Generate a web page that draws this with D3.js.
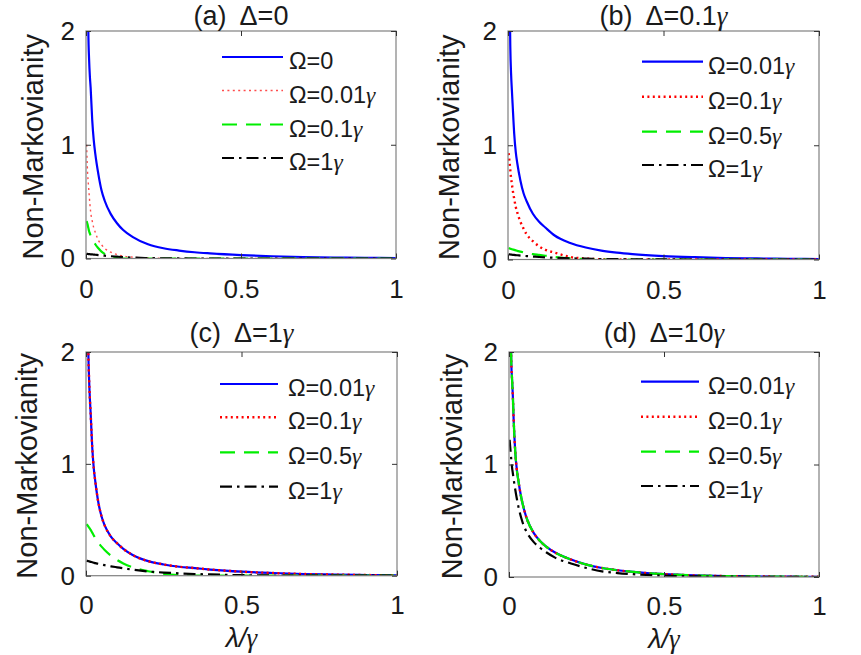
<!DOCTYPE html>
<html>
<head>
<meta charset="utf-8">
<script src="https://d3js.org/d3.v7.min.js"></script>
<style>
  body { margin: 0; background: #fff; }
  svg { display: block; font-family: "Liberation Sans", Arial, Helvetica, sans-serif; }
</style>
</head>
<body>
<div id="chart"></div>
<script>
// lambda / gamma sample points (shared by all curves)
const lambda = [0.002, 0.005, 0.0075, 0.01, 0.0125, 0.015, 0.02, 0.025, 0.03, 0.04, 0.05, 0.06, 0.08, 0.1, 0.12, 0.15, 0.2, 0.25, 0.3, 0.35, 0.4, 0.5, 0.6, 0.7, 0.8, 0.9, 1.0];

// (a) Delta = 0
const aOmega0    = [4.5, 2.8, 2.0, 1.75, 1.6, 1.5, 1.22, 1.04, 0.92, 0.74, 0.6, 0.51, 0.39, 0.31, 0.25, 0.19, 0.125, 0.09, 0.07, 0.055, 0.045, 0.03, 0.02, 0.013, 0.009, 0.006, 0.004];
const aOmega001  = [1.0, 0.76, 0.66, 0.57, 0.48, 0.41, 0.33, 0.27, 0.23, 0.16, 0.12, 0.09, 0.055, 0.035, 0.022, 0.012, 0.004, 0.001, 0, 0, 0, 0, 0, 0, 0, 0, 0];
const aOmega01   = [0.33, 0.3, 0.27, 0.24, 0.22, 0.2, 0.18, 0.15, 0.125, 0.09, 0.06, 0.04, 0.015, 0.004, 0, 0, 0, 0, 0, 0, 0, 0, 0, 0, 0, 0, 0];
const aOmega1    = [0.041, 0.04, 0.039, 0.039, 0.038, 0.037, 0.036, 0.034, 0.033, 0.03, 0.028, 0.025, 0.02, 0.016, 0.012, 0.008, 0.004, 0.002, 0.001, 0, 0, 0, 0, 0, 0, 0, 0];

// (b) Delta = 0.1 gamma
const bOmega001  = [4.0, 2.4, 1.85, 1.62, 1.48, 1.35, 1.1, 0.94, 0.84, 0.69, 0.58, 0.51, 0.4, 0.33, 0.28, 0.21, 0.145, 0.105, 0.078, 0.06, 0.047, 0.03, 0.02, 0.013, 0.009, 0.006, 0.004];
const bOmega01   = [0.93, 0.85, 0.78, 0.71, 0.66, 0.61, 0.53, 0.46, 0.41, 0.33, 0.27, 0.22, 0.16, 0.115, 0.085, 0.06, 0.022, 0.008, 0.003, 0.001, 0, 0, 0, 0, 0, 0, 0];
const bOmega05   = [0.1, 0.097, 0.094, 0.092, 0.09, 0.088, 0.084, 0.08, 0.076, 0.069, 0.062, 0.056, 0.047, 0.04, 0.033, 0.022, 0.01, 0.003, 0, 0, 0, 0, 0, 0, 0, 0, 0];
const bOmega1    = [0.046, 0.045, 0.044, 0.043, 0.042, 0.041, 0.04, 0.038, 0.037, 0.034, 0.032, 0.03, 0.026, 0.022, 0.019, 0.015, 0.01, 0.007, 0.004, 0.003, 0.002, 0.001, 0, 0, 0, 0, 0];

// (c) Delta = 1 gamma
const cOmega001  = [4.5, 2.6, 2.0, 1.75, 1.58, 1.45, 1.15, 0.96, 0.84, 0.65, 0.53, 0.45, 0.35, 0.29, 0.24, 0.185, 0.13, 0.1, 0.08, 0.068, 0.055, 0.036, 0.024, 0.015, 0.01, 0.006, 0.004];
const cOmega01   = [4.5, 2.6, 2.0, 1.75, 1.58, 1.45, 1.15, 0.96, 0.84, 0.65, 0.53, 0.45, 0.35, 0.29, 0.24, 0.185, 0.13, 0.1, 0.08, 0.068, 0.055, 0.036, 0.024, 0.015, 0.01, 0.006, 0.004];
const cOmega05   = [0.46, 0.45, 0.44, 0.43, 0.42, 0.41, 0.385, 0.36, 0.335, 0.295, 0.26, 0.23, 0.18, 0.14, 0.11, 0.075, 0.04, 0.017, 0.005, 0.001, 0, 0, 0, 0, 0, 0, 0];
const cOmega1    = [0.135, 0.132, 0.13, 0.128, 0.126, 0.124, 0.12, 0.116, 0.112, 0.106, 0.1, 0.094, 0.084, 0.075, 0.066, 0.054, 0.038, 0.028, 0.021, 0.015, 0.011, 0.005, 0.002, 0.001, 0, 0, 0];

// (d) Delta = 10 gamma
const dOmega001  = [5.0, 2.5, 1.9, 1.75, 1.6, 1.4, 1.12, 0.96, 0.86, 0.7, 0.585, 0.5, 0.39, 0.32, 0.27, 0.215, 0.155, 0.11, 0.08, 0.06, 0.045, 0.025, 0.014, 0.008, 0.005, 0.003, 0.002];
const dOmega01   = [5.0, 2.5, 1.9, 1.75, 1.6, 1.4, 1.12, 0.96, 0.86, 0.7, 0.585, 0.5, 0.39, 0.32, 0.27, 0.215, 0.155, 0.11, 0.08, 0.06, 0.045, 0.025, 0.014, 0.008, 0.005, 0.003, 0.002];
const dOmega05   = [5.0, 2.5, 1.9, 1.75, 1.6, 1.4, 1.12, 0.96, 0.86, 0.7, 0.585, 0.5, 0.39, 0.32, 0.27, 0.215, 0.155, 0.11, 0.08, 0.06, 0.045, 0.025, 0.014, 0.008, 0.005, 0.003, 0.002];
const dOmega1    = [1.22, 1.12, 1.04, 0.97, 0.92, 0.87, 0.78, 0.7, 0.63, 0.52, 0.44, 0.385, 0.31, 0.26, 0.22, 0.17, 0.12, 0.08, 0.05, 0.035, 0.025, 0.012, 0.006, 0.003, 0.002, 0.001, 0];

// text
const panelTitles = [["(a)", "\u0394=0"], ["(b)", "\u0394=0.1\u03b3"], ["(c)", "\u0394=1\u03b3"], ["(d)", "\u0394=10\u03b3"]];
const legendA = ["\u03a9=0", "\u03a9=0.01\u03b3", "\u03a9=0.1\u03b3", "\u03a9=1\u03b3"];
const legendBCD = ["\u03a9=0.01\u03b3", "\u03a9=0.1\u03b3", "\u03a9=0.5\u03b3", "\u03a9=1\u03b3"];
const xTicks = [0, 0.5, 1];
const yTicks = [0, 1, 2];
const yLabel = "Non-Markovianity";
const xLabel = "\u03bb/\u03b3";

// line styles: blue solid, red dotted, green dashed, black dash-dot
const styles = [
    { color: "#0000ff", dash: null, width: 2.2 },
    { color: "#ff0000", dash: "2,3.4", width: 2.4 },
    { color: "#00ee00", dash: "15,9", width: 2.2 },
    { color: "#000000", dash: "12,5,2.5,5", width: 2.2 }
];

const panels = [
    { box: [86, 396, 31, 258.5], titleY: 25, ylabX: 43, xtPad: 21.5, legX: [222, 283, 289], legY: [57, 90.5, 124.5, 158],
      series: [aOmega0, aOmega001, aOmega01, aOmega1], labels: legendA, thinRed: true, xlab: false },
    { box: [508, 819, 31, 259.5], titleY: 25, ylabX: 459, xtPad: 21, legX: [642, 703, 708], legY: [61.7, 96.7, 131.7, 165],
      series: [bOmega001, bOmega01, bOmega05, bOmega1], labels: legendBCD, xlab: false },
    { box: [86, 397, 352, 575.7], titleY: 342, ylabX: 37, xtPad: 20, legX: [220, 278, 288], legY: [384, 417.3, 452.3, 486.7],
      series: [cOmega001, cOmega01, cOmega05, cOmega1], labels: legendBCD, xlab: true, xlabY: 647 },
    { box: [509, 819, 352, 577], titleY: 342, ylabX: 462, xtPad: 20, legX: [641, 699, 708], legY: [381.7, 416.7, 451.7, 486],
      series: [dOmega001, dOmega01, dOmega05, dOmega1], labels: legendBCD, xlab: true, xlabY: 648 }
];

const width = 861, height = 655;
const textColor = "#1a1a1a";

// write a string into a text element, setting gamma in a serif face
function greekText(sel, str) {
    str.split(/(\u03b3)/).filter(s => s.length).forEach(part => {
        const ts = sel.append("tspan").text(part);
        if (part === "\u03b3") ts.attr("font-family", "'Liberation Serif', 'DejaVu Serif', serif").attr("font-style", "italic");
    });
}

const svg = d3.select("#chart").append("svg")
    .attr("width", width)
    .attr("height", height);

panels.forEach((p, i) => {
    const [x0, x1, y0, y1] = p.box;
    const x = d3.scaleLinear().domain([0, 1]).range([x0, x1]);
    const y = d3.scaleLinear().domain([0, 2]).range([y1, y0]);
    const g = svg.append("g");

    // clip curves to the axes box
    const clipId = "clip" + i;
    svg.append("clipPath").attr("id", clipId)
        .append("rect")
        .attr("x", x0).attr("y", y0)
        .attr("width", x1 - x0).attr("height", y1 - y0);

    const line = d3.line()
        .x(d => x(d[0]))
        .y(d => y(d[1]))
        .curve(d3.curveMonotoneX);

    p.series.forEach((vals, k) => {
        const s = styles[k];
        const thin = p.thinRed && k === 1;
        g.append("path")
            .datum(lambda.map((l, j) => [l, vals[j]]))
            .attr("clip-path", `url(#${ clipId })`)
            .attr("fill", "none")
            .attr("stroke", s.color)
            .attr("stroke-opacity", thin ? 0.7 : 1)
            .attr("stroke-width", thin ? 1.4 : s.width)
            .attr("stroke-dasharray", s.dash)
            .attr("d", line);
    });

    // box
    g.append("rect")
        .attr("x", x0).attr("y", y0)
        .attr("width", x1 - x0).attr("height", y1 - y0)
        .attr("fill", "none")
        .attr("stroke", "#808080")
        .attr("stroke-width", 1.2);

    // axes with inward ticks
    g.append("g")
        .attr("transform", `translate(0,${ y1 })`)
        .call(d3.axisBottom(x).tickValues(xTicks).tickFormat(d3.format("")).tickSizeInner(-5).tickSizeOuter(0).tickPadding(p.xtPad));
    g.append("g")
        .attr("transform", `translate(${ x0 },0)`)
        .call(d3.axisLeft(y).tickValues(yTicks).tickFormat(d3.format("d")).tickSizeInner(-5).tickSizeOuter(0).tickPadding(11));
    g.append("g")
        .attr("transform", `translate(0,${ y0 })`)
        .call(d3.axisTop(x).tickValues(xTicks).tickFormat("").tickSizeInner(-5).tickSizeOuter(0));
    g.append("g")
        .attr("transform", `translate(${ x1 },0)`)
        .call(d3.axisRight(y).tickValues(yTicks).tickFormat("").tickSizeInner(-5).tickSizeOuter(0));

    g.selectAll(".domain").remove();
    g.selectAll(".tick line").attr("stroke", "#333").attr("stroke-width", 1);
    g.selectAll(".tick text")
        .attr("font-size", 26)
        .attr("font-family", "'Liberation Sans', Arial, sans-serif")
        .attr("fill", textColor);

    // title
    const t = g.append("text")
        .attr("x", (x0 + x1) / 2)
        .attr("y", p.titleY)
        .attr("text-anchor", "middle")
        .attr("font-size", 27)
        .attr("fill", textColor);
    t.append("tspan").text(panelTitles[i][0]);
    const t2 = t.append("tspan").attr("dx", 13);
    greekText(t2, panelTitles[i][1]);

    // y label
    g.append("text")
        .attr("transform", `translate(${ p.ylabX },${ (y0 + y1) / 2 + 2 }) rotate(-90)`)
        .attr("text-anchor", "middle")
        .attr("font-size", 29)
        .attr("fill", textColor)
        .text(yLabel);

    // x label
    if (p.xlab) {
        const xl = g.append("text")
            .attr("x", (x0 + x1) / 2)
            .attr("y", p.xlabY)
            .attr("text-anchor", "middle")
            .attr("font-size", 27)
            .attr("fill", textColor);
        xl.append("tspan").attr("font-style", "italic").text("\u03bb/");
        greekText(xl, "\u03b3");
    }

    // legend
    p.labels.forEach((lab, k) => {
        const s = styles[k];
        const thin = p.thinRed && k === 1;
        const ly = p.legY[k];
        g.append("line")
            .attr("x1", p.legX[0]).attr("x2", p.legX[1])
            .attr("y1", ly).attr("y2", ly)
            .attr("stroke", s.color)
            .attr("stroke-opacity", thin ? 0.7 : 1)
            .attr("stroke-width", thin ? 1.4 : s.width)
            .attr("stroke-dasharray", s.dash);
        const lt = g.append("text")
            .attr("x", p.legX[2])
            .attr("y", ly + 12)
            .attr("font-size", 23.5)
            .attr("fill", textColor);
        greekText(lt, lab);
    });
});
</script>
</body>
</html>
